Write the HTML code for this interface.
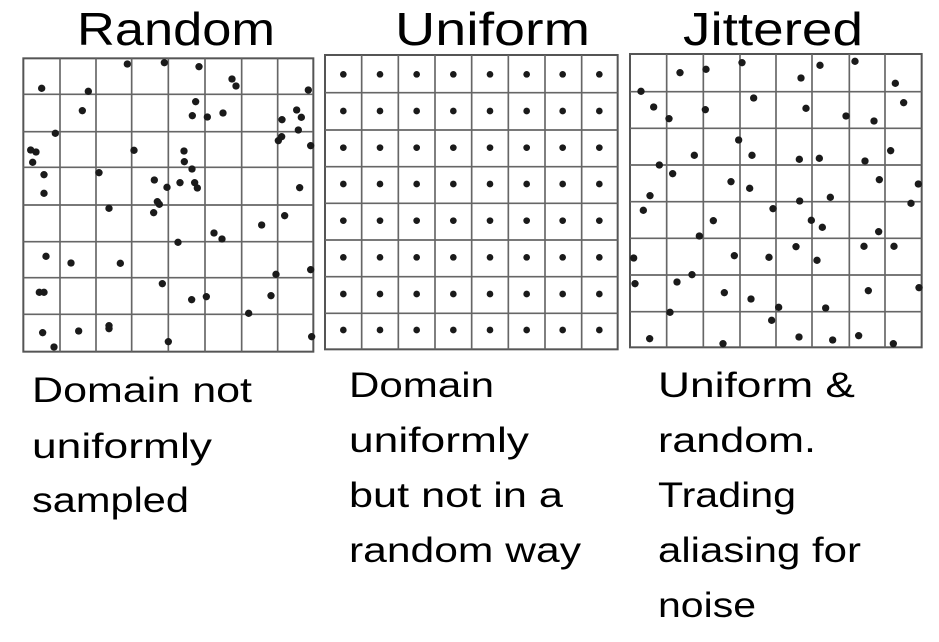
<!DOCTYPE html>
<html><head><meta charset="utf-8"><style>
html,body{margin:0;padding:0;background:#fff;}
svg{display:block;}
text{font-family:"Liberation Sans",sans-serif;fill:#000;}
</style></head><body>
<svg width="939" height="642" viewBox="0 0 939 642" xmlns="http://www.w3.org/2000/svg">
<text x="77" y="45" font-size="46" textLength="198" lengthAdjust="spacingAndGlyphs">Random</text>
<text x="395" y="45" font-size="46" textLength="195" lengthAdjust="spacingAndGlyphs">Uniform</text>
<text x="683" y="45" font-size="46" textLength="180" lengthAdjust="spacingAndGlyphs">Jittered</text>

<g font-size="35">
<text x="32" y="402" textLength="220" lengthAdjust="spacingAndGlyphs">Domain not</text>
<text x="32" y="458" textLength="180" lengthAdjust="spacingAndGlyphs">uniformly</text>
<text x="32" y="512" textLength="157" lengthAdjust="spacingAndGlyphs">sampled</text>
<text x="349" y="397" textLength="145" lengthAdjust="spacingAndGlyphs">Domain</text>
<text x="349" y="452" textLength="180" lengthAdjust="spacingAndGlyphs">uniformly</text>
<text x="349" y="507" textLength="214" lengthAdjust="spacingAndGlyphs">but not in a</text>
<text x="349" y="562" textLength="232" lengthAdjust="spacingAndGlyphs">random way</text>
<text x="658" y="397" textLength="197" lengthAdjust="spacingAndGlyphs">Uniform &amp;</text>
<text x="658" y="452" textLength="158" lengthAdjust="spacingAndGlyphs">random.</text>
<text x="658" y="507" textLength="138" lengthAdjust="spacingAndGlyphs">Trading</text>
<text x="658" y="562" textLength="203" lengthAdjust="spacingAndGlyphs">aliasing for</text>
<text x="658" y="617" textLength="98" lengthAdjust="spacingAndGlyphs">noise</text>
</g>

<!-- Random -->
<g transform="translate(20,50) scale(0.33333)">
<rect x="10" y="25" width="870" height="880" fill="none" stroke="#555" stroke-width="6"/>
<g stroke="#666" stroke-width="5">
<line x1="120" y1="25" x2="120" y2="905"/><line x1="228" y1="25" x2="228" y2="905"/><line x1="335" y1="25" x2="335" y2="905"/><line x1="445" y1="25" x2="445" y2="905"/><line x1="555" y1="25" x2="555" y2="905"/><line x1="665" y1="25" x2="665" y2="905"/><line x1="773" y1="25" x2="773" y2="905"/>
<line x1="10" y1="133" x2="880" y2="133"/><line x1="10" y1="245" x2="880" y2="245"/><line x1="10" y1="352" x2="880" y2="352"/><line x1="10" y1="465" x2="880" y2="465"/><line x1="10" y1="575" x2="880" y2="575"/><line x1="10" y1="683" x2="880" y2="683"/><line x1="10" y1="793" x2="880" y2="793"/>
</g>
<g fill="#1a1a1a">
<circle cx="65" cy="115" r="11"/><circle cx="205" cy="124" r="11"/><circle cx="322" cy="42" r="11"/><circle cx="433" cy="38" r="11"/><circle cx="537" cy="50" r="11"/><circle cx="636" cy="87" r="11"/><circle cx="648" cy="108" r="11"/><circle cx="865" cy="120" r="11"/><circle cx="187" cy="182" r="11"/><circle cx="527" cy="155" r="11"/><circle cx="517" cy="197" r="11"/><circle cx="562" cy="201" r="11"/><circle cx="609" cy="189" r="11"/><circle cx="786" cy="209" r="11"/><circle cx="830" cy="180" r="11"/><circle cx="844" cy="202" r="11"/><circle cx="835" cy="240" r="11"/><circle cx="106" cy="250" r="11"/><circle cx="32" cy="300" r="11"/><circle cx="48" cy="306" r="11"/><circle cx="38" cy="337" r="11"/><circle cx="342" cy="301" r="11"/><circle cx="492" cy="303" r="11"/><circle cx="493" cy="335" r="11"/><circle cx="516" cy="357" r="11"/><circle cx="785" cy="260" r="11"/><circle cx="775" cy="272" r="11"/><circle cx="872" cy="287" r="11"/><circle cx="72" cy="374" r="11"/><circle cx="72" cy="430" r="11"/><circle cx="237" cy="368" r="11"/><circle cx="403" cy="390" r="11"/><circle cx="441" cy="412" r="11"/><circle cx="480" cy="398" r="11"/><circle cx="524" cy="398" r="11"/><circle cx="532" cy="414" r="11"/><circle cx="839" cy="413" r="11"/><circle cx="267" cy="475" r="11"/><circle cx="412" cy="455" r="11"/><circle cx="418" cy="463" r="11"/><circle cx="401" cy="488" r="11"/><circle cx="725" cy="525" r="11"/><circle cx="794" cy="497" r="11"/><circle cx="582" cy="549" r="11"/><circle cx="606" cy="567" r="11"/><circle cx="474" cy="577" r="11"/><circle cx="78" cy="619" r="11"/><circle cx="153" cy="639" r="11"/><circle cx="301" cy="640" r="11"/><circle cx="872" cy="659" r="11"/><circle cx="768" cy="673" r="11"/><circle cx="58" cy="727" r="11"/><circle cx="72" cy="727" r="11"/><circle cx="427" cy="701" r="11"/><circle cx="515" cy="749" r="11"/><circle cx="559" cy="740" r="11"/><circle cx="753" cy="737" r="11"/><circle cx="686" cy="790" r="11"/><circle cx="68" cy="848" r="11"/><circle cx="176" cy="843" r="11"/><circle cx="267" cy="827" r="11"/><circle cx="267" cy="836" r="11"/><circle cx="102" cy="891" r="11"/><circle cx="445" cy="875" r="11"/><circle cx="875" cy="860" r="11"/>
</g>
</g>

<!-- Uniform -->
<g transform="translate(320,50) scale(0.33333)">
<rect x="15" y="15" width="878" height="883" fill="none" stroke="#555" stroke-width="6"/>
<g stroke="#666" stroke-width="5">
<line x1="125" y1="15" x2="125" y2="898"/><line x1="235" y1="15" x2="235" y2="898"/><line x1="345" y1="15" x2="345" y2="898"/><line x1="455" y1="15" x2="455" y2="898"/><line x1="565" y1="15" x2="565" y2="898"/><line x1="675" y1="15" x2="675" y2="898"/><line x1="785" y1="15" x2="785" y2="898"/>
<line x1="15" y1="128" x2="893" y2="128"/><line x1="15" y1="240" x2="893" y2="240"/><line x1="15" y1="350" x2="893" y2="350"/><line x1="15" y1="460" x2="893" y2="460"/><line x1="15" y1="570" x2="893" y2="570"/><line x1="15" y1="680" x2="893" y2="680"/><line x1="15" y1="790" x2="893" y2="790"/>
</g>
<g fill="#1a1a1a" id="u">
<g id="row"><circle cx="70" cy="73" r="10"/><circle cx="180" cy="73" r="10"/><circle cx="290" cy="73" r="10"/><circle cx="400" cy="73" r="10"/><circle cx="510" cy="73" r="10"/><circle cx="620" cy="73" r="10"/><circle cx="728" cy="73" r="10"/><circle cx="838" cy="73" r="10"/></g>
<use href="#row" y="110"/><use href="#row" y="220"/><use href="#row" y="329"/><use href="#row" y="439"/><use href="#row" y="549"/><use href="#row" y="659"/><use href="#row" y="767"/>
</g>
</g>

<!-- Jittered -->
<g transform="translate(620,50) scale(0.33333)">
<rect x="30" y="12" width="875" height="880" fill="none" stroke="#555" stroke-width="6"/>
<g stroke="#666" stroke-width="5">
<line x1="140" y1="12" x2="140" y2="892"/><line x1="250" y1="12" x2="250" y2="892"/><line x1="360" y1="12" x2="360" y2="892"/><line x1="468" y1="12" x2="468" y2="892"/><line x1="576" y1="12" x2="576" y2="892"/><line x1="688" y1="12" x2="688" y2="892"/><line x1="795" y1="12" x2="795" y2="892"/>
<line x1="30" y1="125" x2="905" y2="125"/><line x1="30" y1="235" x2="905" y2="235"/><line x1="30" y1="345" x2="905" y2="345"/><line x1="30" y1="455" x2="905" y2="455"/><line x1="30" y1="565" x2="905" y2="565"/><line x1="30" y1="675" x2="905" y2="675"/><line x1="30" y1="785" x2="905" y2="785"/>
</g>
<g fill="#1a1a1a">
<circle cx="180" cy="68" r="11"/><circle cx="258" cy="58" r="11"/><circle cx="366" cy="38" r="11"/><circle cx="543" cy="84" r="11"/><circle cx="600" cy="46" r="11"/><circle cx="705" cy="34" r="11"/><circle cx="826" cy="100" r="11"/><circle cx="63" cy="124" r="11"/><circle cx="101" cy="171" r="11"/><circle cx="147" cy="206" r="11"/><circle cx="256" cy="179" r="11"/><circle cx="401" cy="144" r="11"/><circle cx="558" cy="175" r="11"/><circle cx="678" cy="198" r="11"/><circle cx="762" cy="213" r="11"/><circle cx="851" cy="158" r="11"/><circle cx="356" cy="270" r="11"/><circle cx="223" cy="316" r="11"/><circle cx="396" cy="316" r="11"/><circle cx="538" cy="328" r="11"/><circle cx="598" cy="325" r="11"/><circle cx="735" cy="333" r="11"/><circle cx="812" cy="302" r="11"/><circle cx="118" cy="345" r="11"/><circle cx="158" cy="371" r="11"/><circle cx="333" cy="395" r="11"/><circle cx="389" cy="415" r="11"/><circle cx="778" cy="389" r="11"/><circle cx="895" cy="402" r="11"/><circle cx="90" cy="437" r="11"/><circle cx="70" cy="481" r="11"/><circle cx="539" cy="453" r="11"/><circle cx="631" cy="442" r="11"/><circle cx="459" cy="476" r="11"/><circle cx="873" cy="460" r="11"/><circle cx="280" cy="512" r="11"/><circle cx="574" cy="511" r="11"/><circle cx="607" cy="532" r="11"/><circle cx="776" cy="545" r="11"/><circle cx="238" cy="558" r="11"/><circle cx="41" cy="624" r="11"/><circle cx="343" cy="617" r="11"/><circle cx="447" cy="622" r="11"/><circle cx="528" cy="590" r="11"/><circle cx="591" cy="631" r="11"/><circle cx="732" cy="589" r="11"/><circle cx="822" cy="589" r="11"/><circle cx="45" cy="701" r="11"/><circle cx="171" cy="696" r="11"/><circle cx="216" cy="674" r="11"/><circle cx="313" cy="728" r="11"/><circle cx="393" cy="747" r="11"/><circle cx="476" cy="772" r="11"/><circle cx="617" cy="774" r="11"/><circle cx="745" cy="722" r="11"/><circle cx="897" cy="713" r="11"/><circle cx="150" cy="787" r="11"/><circle cx="455" cy="811" r="11"/><circle cx="89" cy="866" r="11"/><circle cx="309" cy="881" r="11"/><circle cx="537" cy="861" r="11"/><circle cx="638" cy="870" r="11"/><circle cx="716" cy="857" r="11"/><circle cx="820" cy="881" r="11"/>
</g>
</g>
</svg>
</body></html>
